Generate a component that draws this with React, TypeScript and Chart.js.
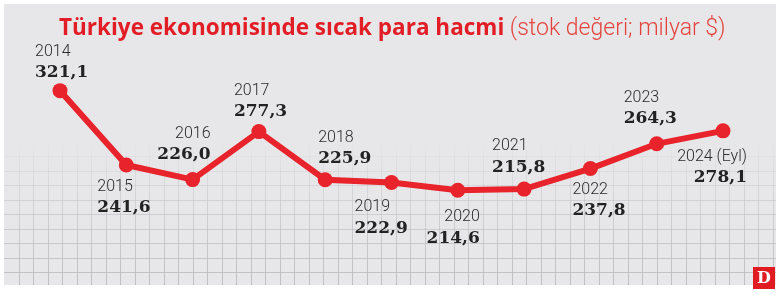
import React, { useEffect, useRef } from "react";
import { Chart, registerables } from "chart.js";

Chart.register(...registerables);

// ---- data ----
const years = ["2014", "2015", "2016", "2017", "2018", "2019", "2020", "2021", "2022", "2023", "2024 (Eyl)"];
const values = [321.1, 241.6, 226.0, 277.3, 225.9, 222.9, 214.6, 215.8, 237.8, 264.3, 278.1];
const titleBold = "Türkiye ekonomisinde sıcak para hacmi";
const titleLight = " (stok değeri; milyar $)";
const logoText = "D";

// ---- label layout (relative to each point) ----
const LABEL_LAYOUT = [
  { align: "left", dx: -25, dy: -39 },
  { align: "left", dx: -29, dy: 22 },
  { align: "right", dx: 18, dy: -46 },
  { align: "left", dx: -25, dy: -41 },
  { align: "left", dx: -7, dy: -42 },
  { align: "left", dx: -37, dy: 25 },
  { align: "right", dx: 22, dy: 27 },
  { align: "left", dx: -32, dy: -43 },
  { align: "left", dx: -18, dy: 21 },
  { align: "left", dx: -33, dy: -46 },
  { align: "right", dx: 24, dy: 26 },
];

const RED = "#e8232b";

const fmt = (v: number) => v.toFixed(1).replace(".", ",");

const backgroundPlugin = {
  id: "bgPanel",
  beforeDraw(chart: any) {
    const ctx = chart.ctx as CanvasRenderingContext2D;
    const W = chart.width;
    const H = chart.height;
    ctx.save();
    ctx.fillStyle = "#ffffff";
    ctx.fillRect(0, 0, W, H);
    const px0 = 4, py0 = 4, px1 = 776, py1 = 285;
    ctx.fillStyle = "#e7e7e9";
    ctx.fillRect(px0, py0, px1 - px0, py1 - py0);
    const g = ctx.createLinearGradient(0, 140, 0, py1);
    g.addColorStop(0, "rgba(190,190,196,0)");
    g.addColorStop(0.45, "rgba(190,190,196,0.55)");
    g.addColorStop(1, "rgba(190,190,196,1)");
    ctx.strokeStyle = g;
    ctx.lineWidth = 1;
    ctx.beginPath();
    for (let x = 18.5; x < px1; x += 14.5) {
      const xx = Math.round(x) + 0.5;
      ctx.moveTo(xx, 140);
      ctx.lineTo(xx, py1);
    }
    for (let y = 272; y > 140; y -= 14.5) {
      const yy = Math.round(y) + 0.5;
      ctx.moveTo(px0, yy);
      ctx.lineTo(px1, yy);
    }
    ctx.stroke();
    ctx.restore();
  },
  afterDraw(chart: any) {
    const ctx = chart.ctx as CanvasRenderingContext2D;
    ctx.save();
    ctx.fillStyle = "#e01b22";
    ctx.fillRect(753, 267, 22, 22);
    ctx.fillStyle = "#ffffff";
    ctx.font = "bold 16px 'DejaVu Serif'";
    ctx.textAlign = "center";
    ctx.textBaseline = "middle";
    ctx.fillText(logoText, 764, 278.5);
    ctx.restore();
  },
};

const labelsPlugin = {
  id: "pointLabels",
  afterDatasetsDraw(chart: any) {
    const ctx = chart.ctx as CanvasRenderingContext2D;
    const meta = chart.getDatasetMeta(0);
    ctx.save();
    ctx.textBaseline = "middle";
    meta.data.forEach((pt: any, i: number) => {
      const L = LABEL_LAYOUT[i];
      const x = pt.x + L.dx;
      const y = pt.y + L.dy;
      ctx.textAlign = L.align as CanvasTextAlign;
      ctx.fillStyle = "#2b2b2b";
      ctx.font = "300 16px Roboto";
      ctx.fillText(chart.data.labels[i], x, y);
      ctx.fillStyle = "#222222";
      ctx.font = "bold 17px 'DejaVu Serif'";
      ctx.fillText(fmt(chart.data.datasets[0].data[i]), x, y + 21);
    });
    ctx.restore();
  },
};

export default function App() {
  const ref = useRef<HTMLCanvasElement | null>(null);

  useEffect(() => {
    document.body.style.margin = "0";
    const canvas = ref.current;
    if (!canvas) return;
    const chart = new Chart(canvas, {
      type: "line",
      data: {
        labels: years,
        datasets: [
          {
            data: values,
            borderColor: RED,
            backgroundColor: RED,
            borderWidth: 6,
            pointRadius: 7.5,
            pointBackgroundColor: RED,
            pointBorderWidth: 0,
            tension: 0,
            clip: false as any,
          },
        ],
      },
      options: {
        animation: false,
        responsive: false,
        devicePixelRatio: 1,
        layout: { padding: { left: 60, right: 59, top: 60, bottom: 26 } },
        scales: {
          x: { display: false, offset: false },
          y: { display: false, min: 129.3, max: 353.9 },
        },
        plugins: {
          legend: { display: false },
          tooltip: { enabled: false },
          title: { display: false },
        },
      },
      plugins: [backgroundPlugin, labelsPlugin],
    });
    return () => chart.destroy();
  }, []);

  return (
    <div style={{ position: "relative", width: 782, height: 296 }}>
      <canvas ref={ref} width={782} height={296} style={{ display: "block" }} />
      <div
        style={{
          position: "absolute",
          left: 59,
          top: 13,
          fontSize: 22,
          lineHeight: "28px",
          whiteSpace: "nowrap",
          color: "#e31d25",
        }}
      >
        <span style={{ fontWeight: 700, fontFamily: "'Open Sans', sans-serif", fontSize: 22.5 }}>{titleBold}</span>
        <span style={{ fontWeight: 300, fontFamily: "Roboto, sans-serif", color: "#e4443d", fontSize: 23 }}>{titleLight}</span>
      </div>
    </div>
  );
}
